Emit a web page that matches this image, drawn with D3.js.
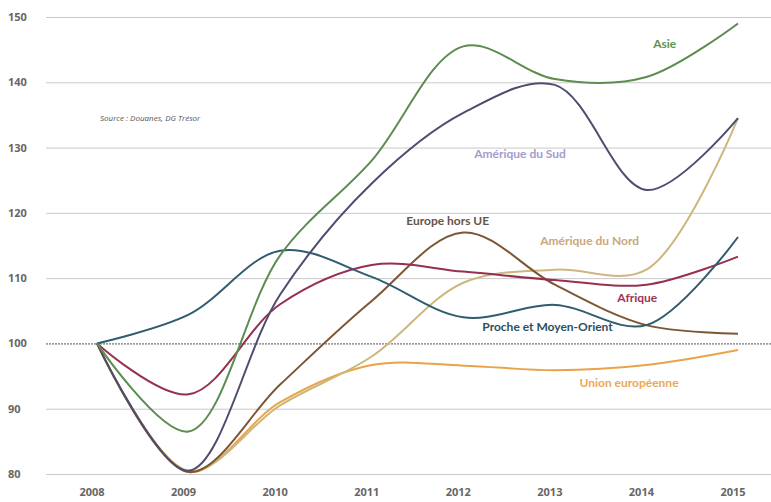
<!DOCTYPE html>
<html>
<head>
<meta charset="utf-8">
<script src="https://cdn.jsdelivr.net/npm/d3@7"></script>
<style>
  body { margin: 0; background: #fff; }
  svg { display: block; }
</style>
</head>
<body>
<div id="main"></div>
<script>
var years = [2008, 2009, 2010, 2011, 2012, 2013, 2014, 2015];
var yTicks = [80, 90, 100, 110, 120, 130, 140, 150];

var asie = [100, 86.5, 113.5, 128, 145.5, 140.5, 140.8, 149];
var ameriqueSud = [100, 80.5, 107.5, 124.5, 135.3, 139.6, 123.5, 134.5];
var europeHorsUE = [100, 80.3, 93.7, 106.5, 117, 109, 102.8, 101.5];
var ameriqueNord = [100, 80.5, 90.5, 98, 109.3, 111.3, 111.3, 134.5];
var afrique = [100, 92.2, 106, 112, 111, 109.7, 109, 113.3];
var procheOrient = [100, 104.4, 114.2, 110.2, 104, 105.9, 102.8, 116.3];
var unionEuro = [100, 80.3, 91, 96.7, 96.6, 95.9, 96.7, 99];

var seriesNames = ["Union européenne", "Amérique du Nord", "Europe hors UE", "Afrique",
                   "Proche et Moyen-Orient", "Amérique du Sud", "Asie"];
var seriesValues = [unionEuro, ameriqueNord, europeHorsUE, afrique, procheOrient, ameriqueSud, asie];
var seriesColors = ["#e9a449", "#cdb77f", "#7d5634", "#97304f", "#2f5d6e", "#4f4c6e", "#5c8c50"];
var labelColors = ["#eaa857", "#c9a87a", "#655548", "#9c3456", "#2e4f5c", "#a59ccb", "#5e9150"];
// label anchor positions (year, value)
var labelPos = [[2013.81, 93.4], [2013.38, 115.1], [2011.83, 118.1], [2013.9, 106.3],
                [2012.92, 101.9], [2012.62, 128.4], [2014.2, 145.2]];

var width = 771, height = 502;

var svg = d3.select("#main")
  .append("svg")
    .attr("width", width)
    .attr("height", height);

var x = d3.scalePoint()
  .domain(years)
  .range([97, 738]);

var y = d3.scaleLinear()
  .domain([80, 150])
  .range([474, 17]);

// gridlines
svg.append("g")
  .selectAll("line")
  .data(yTicks.filter(function(d) { return d != 100; }))
  .enter().append("line")
    .attr("x1", 46)
    .attr("x2", width)
    .attr("y1", function(d) { return y(d) + 0.5; })
    .attr("y2", function(d) { return y(d) + 0.5; })
    .attr("stroke", "#c9c9c9")
    .attr("stroke-width", 1);

// base 100 dotted line
svg.append("line")
  .attr("x1", 46)
  .attr("x2", width)
  .attr("y1", y(100) + 0.5)
  .attr("y2", y(100) + 0.5)
  .attr("stroke", "#555")
  .attr("stroke-width", 1)
  .attr("stroke-dasharray", "2,1");

// y axis labels
svg.append("g")
  .selectAll("text")
  .data(yTicks)
  .enter().append("text")
    .attr("x", 8)
    .attr("y", function(d) { return y(d) + 4; })
    .attr("font-family", "Open Sans, sans-serif")
    .attr("font-size", 11)
    .attr("font-weight", "bold")
    .attr("fill", "#666")
    .text(function(d) { return d; });

// x axis labels
svg.append("g")
  .selectAll("text")
  .data(years)
  .enter().append("text")
    .attr("x", function(d) { return x(d) - 5; })
    .attr("y", 496)
    .attr("text-anchor", "middle")
    .attr("font-family", "Open Sans, sans-serif")
    .attr("font-size", 11)
    .attr("font-weight", "bold")
    .attr("fill", "#666")
    .text(function(d) { return d; });

// source
svg.append("text")
  .attr("x", 100)
  .attr("y", 121)
  .attr("font-family", "Open Sans, sans-serif")
  .attr("font-size", 8)
  .attr("font-style", "italic")
  .attr("fill", "#555")
  .text("Source : Douanes, DG Trésor");

var line = d3.line()
  .x(function(d, i) { return x(years[i]); })
  .y(function(d) { return y(d); })
  .curve(d3.curveCatmullRom.alpha(0.5));

svg.append("g")
  .selectAll("path")
  .data(seriesValues)
  .enter().append("path")
    .attr("d", line)
    .attr("fill", "none")
    .attr("stroke", function(d, i) { return seriesColors[i]; })
    .attr("stroke-width", 2);

var xYear = d3.scaleLinear().domain([2008, 2015]).range([97, 738]);

svg.append("g")
  .selectAll("text")
  .data(seriesNames)
  .enter().append("text")
    .attr("x", function(d, i) { return xYear(labelPos[i][0]); })
    .attr("y", function(d, i) { return y(labelPos[i][1]); })
    .attr("text-anchor", "middle")
    .attr("font-family", "Lato, sans-serif")
    .attr("font-size", 12)
    .attr("font-weight", "bold")
    .attr("fill", function(d, i) { return labelColors[i]; })
    .text(function(d) { return d; });
</script>
</body>
</html>
